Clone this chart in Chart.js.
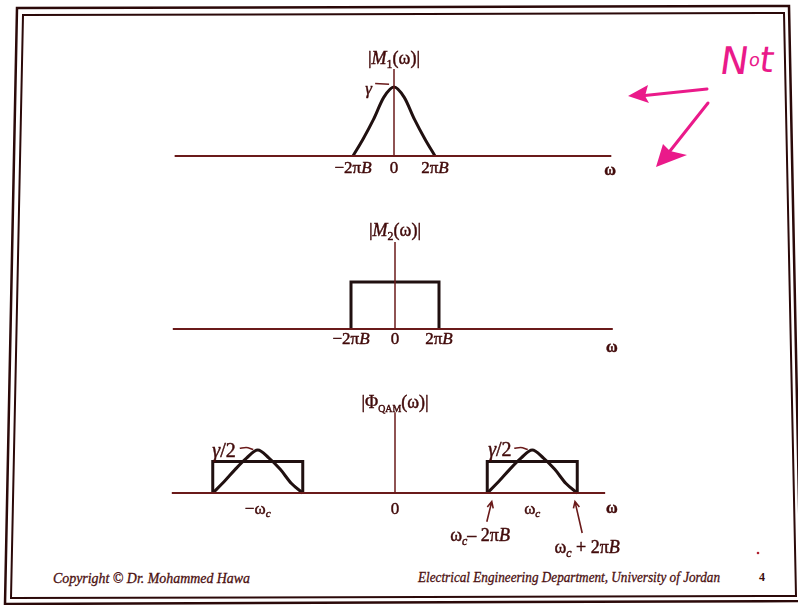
<!DOCTYPE html>
<html>
<head>
<title>QAM Spectra</title>
<script src="https://cdn.jsdelivr.net/npm/chart.js"></script>
<style>
  body {
    margin: 0;
    padding: 0;
    background: #fff;
    width: 798px;
    height: 605px;
    overflow: hidden;
    position: relative;
    font-family: "Liberation Serif", serif;
  }
  svg.page { position: absolute; left: 0; top: 0; }
  canvas.panel { position: absolute; }
</style>
</head>
<body>
<svg class="page" width="798" height="605">
  <!-- double frame of the slide -->
  <polygon points="17,8 789,6 801,601 5,604" fill="none" stroke="#2b0909" stroke-width="2.5"/>
  <polygon points="23,15 784,13 796,596 11,598" fill="none" stroke="#2b0909" stroke-width="2"/>
  <!-- handwritten note -->
  <g fill="none" stroke="#ea1a8a" stroke-width="3" stroke-linecap="round">
    <path d="M707 89 L640 96"/>
    <path d="M708 103 L670 151"/>
  </g>
  <g fill="#ea1a8a">
    <path d="M628 96 L648 85 L645 96 L649 103 Z"/>
    <path d="M656 167 L663 144 L670 151 L687 155 Z"/>
    <circle cx="758" cy="553" r="1.3" fill="#b02030"/>
  </g>
  <text x="719" y="74" fill="#ea1a8a" font-family="DejaVu Sans" transform="skewX(-8) translate(10 0)">
    <tspan font-size="38">N</tspan><tspan font-size="18" dy="-8">o</tspan><tspan font-size="36" dy="6">t</tspan>
  </text>
  <!-- footer -->
  <text x="53" y="583" font-size="14" font-style="italic" fill="#4b0f0f" stroke="#4b0f0f" stroke-width="0.3" textLength="197" lengthAdjust="spacingAndGlyphs">Copyright © Dr. Mohammed Hawa</text>
  <text x="418" y="582" font-size="14" font-style="italic" fill="#4b0f0f" stroke="#4b0f0f" stroke-width="0.3" textLength="302" lengthAdjust="spacingAndGlyphs">Electrical Engineering Department, University of Jordan</text>
  <text x="759" y="581" font-size="12" font-weight="bold" fill="#3a0c0c">4</text>
</svg>

<canvas id="p1" class="panel" width="510" height="160" style="left:140px;top:30px"></canvas>
<canvas id="p2" class="panel" width="510" height="160" style="left:140px;top:200px"></canvas>
<canvas id="p3" class="panel" width="510" height="180" style="left:140px;top:380px"></canvas>

<script>
// |M1(w)|: w in units of 2*pi*B, height in units of gamma
const m1W = [-1, -0.75, -0.5, -0.25, 0, 0.25, 0.5, 0.75, 1];
const m1Mag = [0, 0.25, 0.53, 0.85, 1, 0.85, 0.53, 0.25, 0];
const m1Axis = [-5.35, 5.3];
const m1Stem = 1.26;

// |M2(w)|: flat band
const m2W = [-1, -1, 1, 1];
const m2Mag = [0, 1, 1, 0];
const m2Axis = [-5.05, 4.95];
const m2Stem = 1.85;

// |Phi_QAM(w)|: both bands moved to +/- wc, height in units of gamma/2
const wc = 3.05;
const qamCenters = [-wc, wc];
const qamW = [-1, -0.75, -0.5, -0.25, 0, 0.25, 0.5, 0.75, 1];
const qamCurve = [0, 0.26, 0.55, 0.81, 1, 0.81, 0.55, 0.22, 0];
const qamRectW = [-1, -1, 1, 1];
const qamRect = [0, 0.73, 0.73, 0];
const qamAxis = [-4.96, 4.67];
const qamStem = 1.88;

// tick labels (markup: *italic*, _{subscript})
const bandTicks = [-1, 0, 1];
const bandTickText = ['−2π*B*', '0', '2π*B*'];
const qamTicks = [-wc, 0, wc];
const qamTickText = ['−ω_{*c*}', '0', 'ω_{*c*}'];
const edgeText = ['ω_{*c*}– 2π*B*', 'ω_{*c*} + 2π*B*'];

const TEXT = '#420b0b';
const AXIS = '#6a1a1a';
const INK = '#201010';

function parseRuns(s) {
  const runs = [];
  let italic = false, sub = false, buf = '';
  const flush = () => { if (buf) runs.push({ t: buf, italic, sub }); buf = ''; };
  for (let i = 0; i < s.length; i++) {
    const ch = s[i];
    if (ch === '*') { flush(); italic = !italic; }
    else if (ch === '_' && s[i + 1] === '{') { flush(); sub = true; i++; }
    else if (ch === '}' && sub) { flush(); sub = false; }
    else buf += ch;
  }
  flush();
  return runs;
}

function drawRich(ctx, text, cx, cy, size, bold, subScale) {
  const runs = parseRuns(text).map(r => {
    const fs = r.sub ? size * (subScale || 0.66) : size;
    const font = (r.italic ? 'italic ' : '') + (bold ? 'bold ' : '') + fs + 'px "Liberation Serif"';
    ctx.font = font;
    return { t: r.t, font, w: ctx.measureText(r.t).width, dy: r.sub ? size * 0.2 : 0 };
  });
  const total = runs.reduce((a, r) => a + r.w, 0);
  let xx = cx - total / 2;
  const base = cy + size * 0.34;
  ctx.fillStyle = TEXT;
  ctx.strokeStyle = TEXT;
  ctx.lineWidth = 0.45;
  ctx.textBaseline = 'alphabetic';
  ctx.textAlign = 'left';
  runs.forEach(r => {
    ctx.font = r.font;
    ctx.fillText(r.t, xx, base + r.dy);
    ctx.strokeText(r.t, xx, base + r.dy);
    xx += r.w;
  });
}

const overlay = {
  id: 'overlay',
  afterDatasetsDraw(chart, args, opts) {
    const { ctx } = chart;
    const x = chart.scales.x, y = chart.scales.y;
    ctx.save();
    (opts.labels || []).forEach(l => {
      drawRich(ctx, l.text, x.getPixelForValue(l.x), y.getPixelForValue(l.y), l.size || 17, l.bold, l.subScale);
    });
    (opts.arrows || []).forEach(a => {
      const x1 = x.getPixelForValue(a.from[0]), y1 = y.getPixelForValue(a.from[1]);
      const x2 = x.getPixelForValue(a.to[0]), y2 = y.getPixelForValue(a.to[1]);
      const ang = Math.atan2(y2 - y1, x2 - x1);
      ctx.strokeStyle = AXIS;
      ctx.lineWidth = 1.6;
      ctx.beginPath();
      ctx.moveTo(x1, y1);
      ctx.lineTo(x2, y2);
      ctx.moveTo(x2 - 7 * Math.cos(ang - 0.45), y2 - 7 * Math.sin(ang - 0.45));
      ctx.lineTo(x2, y2);
      ctx.lineTo(x2 - 7 * Math.cos(ang + 0.45), y2 - 7 * Math.sin(ang + 0.45));
      ctx.stroke();
    });
    ctx.restore();
  }
};

function pts(xs, ys, shift) {
  return xs.map((v, i) => ({ x: v + (shift || 0), y: ys[i] }));
}

function line(data, color, width, smooth) {
  return {
    data,
    borderColor: color,
    borderWidth: width,
    pointRadius: 0,
    fill: false,
    tension: 0,
    cubicInterpolationMode: smooth ? 'monotone' : 'default',
    borderJoinStyle: 'miter',
    borderCapStyle: 'butt',
    clip: false
  };
}

// box: canvas placement; x0/y0: pixel of the origin; ux/uy: pixels per unit
function panel(id, box, x0, y0, ux, uy, datasets, labels, arrows) {
  const canvas = document.getElementById(id);
  new Chart(canvas, {
    type: 'line',
    data: { datasets },
    options: {
      responsive: false,
      animation: false,
      events: [],
      layout: { padding: 0 },
      scales: {
        x: {
          type: 'linear', display: false,
          min: (box.left - x0) / ux, max: (box.left + box.width - x0) / ux
        },
        y: {
          type: 'linear', display: false,
          min: (y0 - (box.top + box.height)) / uy, max: (y0 - box.top) / uy
        }
      },
      plugins: {
        legend: { display: false },
        tooltip: { enabled: false },
        overlay: { labels, arrows }
      }
    },
    plugins: [overlay]
  });
}

function tickLabels(vals, texts, yv) {
  return vals.map((v, i) => ({ x: v, y: yv, text: texts[i], size: 17 }));
}

// panel 1
panel('p1', { left: 140, top: 30, width: 510, height: 160 }, 394, 156, 41, 69, [
  line(pts(m1Axis, [0, 0]), AXIS, 2),
  line(pts([0, 0], [0, m1Stem]), AXIS, 1.5),
  line(pts([-0.46, -0.12], [1.05, 1.04]), AXIS, 1.5),
  line(pts(m1W, m1Mag), INK, 3, true)
], [
  { x: 0, y: 1.42, text: '|*M*_{1}(ω)|', size: 18 },
  { x: -0.62, y: 0.98, text: '*γ*', size: 17 },
  { x: 5.27, y: -0.2, text: 'ω', size: 16, bold: true },
  ...tickLabels(bandTicks, bandTickText, -0.16)
]);

// panel 2
panel('p2', { left: 140, top: 200, width: 510, height: 160 }, 395, 329, 44, 47, [
  line(pts(m2Axis, [0, 0]), AXIS, 2),
  line(pts([0, 0], [0, m2Stem]), AXIS, 1.5),
  line(pts(m2W, m2Mag), INK, 3)
], [
  { x: 0, y: 2.1, text: '|*M*_{2}(ω)|', size: 18 },
  { x: 4.93, y: -0.38, text: 'ω', size: 16, bold: true },
  ...tickLabels(bandTicks, bandTickText, -0.19)
]);

// panel 3
const qamSets = [
  line(pts(qamAxis, [0, 0]), AXIS, 2),
  line(pts([0, 0], [0, qamStem]), AXIS, 1.5)
];
qamCenters.forEach(c => {
  qamSets.push(line(pts(qamRectW, qamRect, c), INK, 3));
  qamSets.push(line(pts(qamW, qamCurve, c), INK, 3, true));
  qamSets.push(line(pts([-0.4, -0.26, -0.1], [1.04, 1.06, 1.01], c), AXIS, 1.5, true));
});

panel('p3', { left: 140, top: 380, width: 510, height: 180 }, 395, 493, 45, 43, qamSets, [
  { x: 0, y: 2.12, text: '|Φ_{QAM}(ω)|', size: 18, subScale: 0.55 },
  { x: -wc - 0.75, y: 1.0, text: '*γ*/2', size: 20 },
  { x: wc - 0.72, y: 1.02, text: '*γ*/2', size: 20 },
  { x: 4.82, y: -0.33, text: 'ω', size: 16, bold: true },
  ...tickLabels(qamTicks, qamTickText, -0.35),
  { x: wc - 1.16, y: -0.98, text: edgeText[0], size: 18 },
  { x: wc + 1.22, y: -1.26, text: edgeText[1], size: 18 }
], [
  { from: [wc - 1.01, -0.67], to: [wc - 0.9, -0.2] },
  { from: [wc + 1.11, -0.93], to: [wc + 0.95, -0.2] }
]);
</script>
</body>
</html>
